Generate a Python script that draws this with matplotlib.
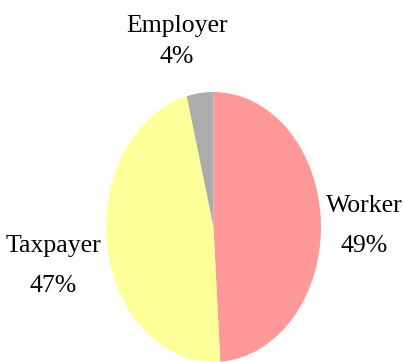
import matplotlib.pyplot as plt

labels = ['Worker', 'Taxpayer', 'Employer']
shares = [49, 47, 4]
colors = ['#FF9999', '#FFFF99', '#ACACAC']

# pixel geometry of the (stretched) pie
W, H = 403, 362
cx, cy, rx, ry = 213.5, 227, 107.5, 135

fig = plt.figure(figsize=(W / 100, H / 100), dpi=100)
ax = fig.add_axes([0, 0, 1, 1])
ax.pie(shares, colors=colors, startangle=90, counterclock=False,
       wedgeprops=dict(linewidth=0))
ax.set_aspect('auto')
ax.set_xlim((0 - cx) / rx, (W - cx) / rx)
ax.set_ylim((cy - H) / ry, cy / ry)
ax.axis('off')

# label placement in pixels: (x centre, name baseline, value baseline)
label_pos = {'Worker': (364, 212, 252),
             'Taxpayer': (53, 252, 292),
             'Employer': (177, 32, 63)}
for name, val in zip(labels, shares):
    px, y1, y2 = label_pos[name]
    for txt, py in ((name, y1), (f'{val}%', y2)):
        fig.text(px / W, 1 - py / H, txt, ha='center', va='baseline',
                 fontsize=18.5, family='Liberation Serif')

fig.savefig('out.png', dpi=100)
